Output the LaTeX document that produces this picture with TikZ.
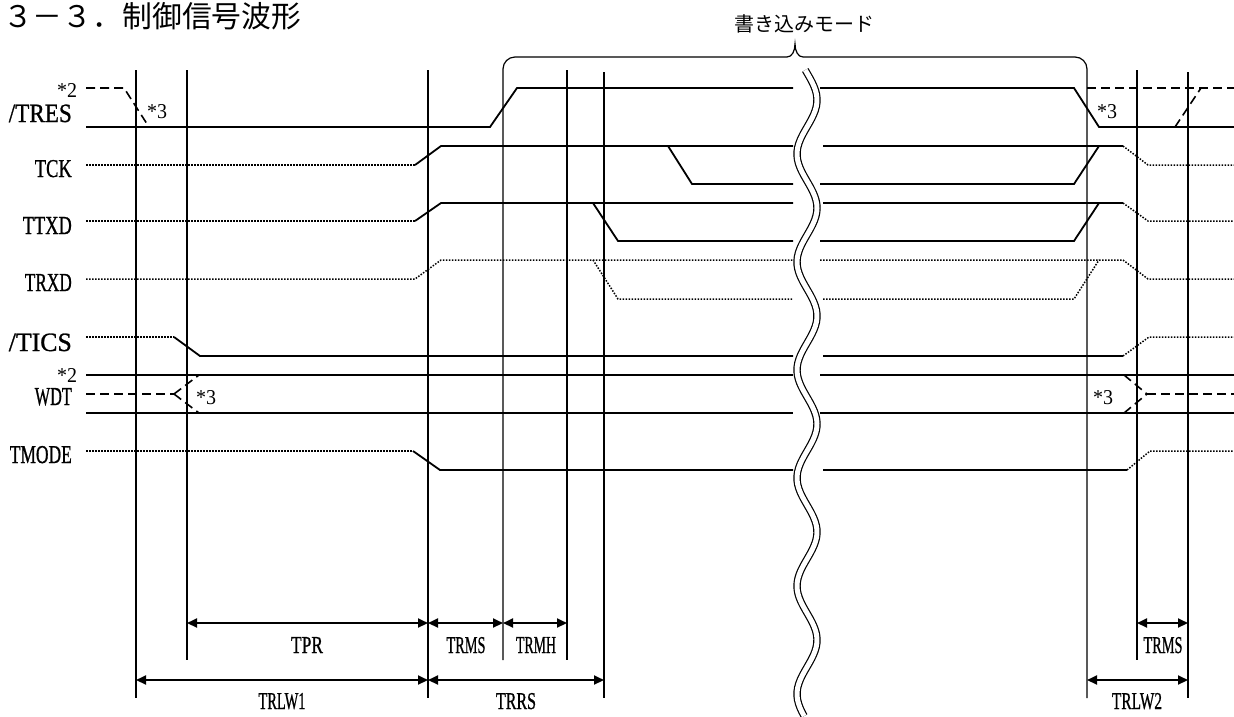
\documentclass[tikz,border=0pt]{standalone}
\usepackage{fontspec}
\usepackage{graphicx}
\setmainfont{Liberation Serif}
\newfontfamily\lblfont[FakeBold=1]{Liberation Serif}
\newfontfamily\cjk{Noto Sans CJK JP}
\usetikzlibrary{arrows.meta}
\newcommand\cnd[3]{\resizebox{#1pt}{#2pt}{\lblfont #3}}
\newcommand\nt[1]{\resizebox{20pt}{14pt}{\fontsize{20}{20}\selectfont #1}}
\tikzset{
  vline/.style={line width=1.2pt},
  sig/.style={line width=1.8pt},
  sigdot/.style={line width=1.5pt, dash pattern=on 1.5pt off 1.5pt},
  sigdash/.style={line width=1.6pt, dash pattern=on 9pt off 5pt},
  dimarrow/.style={line width=2pt, {Triangle[length=10pt,width=9pt]}-{Triangle[length=10pt,width=9pt]}},
  lbl/.style={inner sep=0pt, anchor=base east},
  dimlbl/.style={inner sep=0pt, anchor=base},
  note/.style={inner sep=0pt, anchor=base west},
  wave/.style={line width=1.2pt, double, double distance=5pt}
}
\begin{document}
\begin{tikzpicture}[x=1pt,y=-1pt]
\useasboundingbox (0,0) rectangle (1234,716);
\fill[white] (0,0) rectangle (1234,716);

% title and mode label
\node[inner sep=0pt, anchor=base west] (title) at (3,27) {\cjk\fontsize{29.8}{29.8}\selectfont ３－３．制御信号波形};
\node[inner sep=0pt, anchor=base] (mode) at (804,31) {\cjk\fontsize{20}{20}\selectfont 書き込みモード};

% brace with legs
\draw[vline, rounded corners=12pt] (503,660) -- (503,57) -- (787,57);
\draw[vline] (787,57) .. controls (792,57) and (795,51) .. (795,44) .. controls (795,51) and (798,57) .. (803,57);
\draw[vline, rounded corners=12pt] (803,57) -- (1087,57) -- (1087,698);

% vertical time markers
\draw[vline] (136,70) -- (136,698);
\draw[vline] (187,70) -- (187,660);
\draw[vline] (428,70) -- (428,698);
\draw[vline] (567,70) -- (567,660);
\draw[vline] (604,72) -- (604,698);
\draw[vline] (1137,70) -- (1137,660);
\draw[vline] (1188,72) -- (1188,698);

% signal labels
\node[lbl] (lTRES) at (72,122) {\cnd{63}{17.5}{/TRES}};
\node[lbl] (lTCK) at (72,177) {\cnd{37}{17}{TCK}};
\node[lbl] (lTTXD) at (72,234) {\cnd{49}{17}{TTXD}};
\node[lbl] (lTRXD) at (72,291) {\cnd{47}{17}{TRXD}};
\node[lbl] (lTICS) at (72,351) {\cnd{63}{17.5}{/TICS}};
\node[lbl] (lWDT) at (72,405) {\cnd{37}{17}{WDT}};
\node[lbl] (lTMODE) at (72,463) {\cnd{62}{17}{TMODE}};

\node[note] (n2a) at (57,97) {\nt{*2}};
\node[note] (n3a) at (147,118) {\nt{*3}};
\node[note] (n3b) at (1097,118) {\nt{*3}};
\node[note] (n2b) at (57,382) {\nt{*2}};
\node[note] (n3c) at (196,404) {\nt{*3}};
\node[note] (n3d) at (1093,404) {\nt{*3}};

% /TRES
\draw[sig] (86,127) -- (490,127) -- (517,88) -- (793,88);
\draw[sig] (820,88) -- (1074,88) -- (1099,127) -- (1234,127);
\draw[sigdash] (1087,88) -- (1234,88);
\draw[sigdash] (1175,127) -- (1201,88);
\draw[sigdash] (86,88) -- (124,88) -- (149,127);

% TCK
\draw[sigdot] (86,165) -- (415,165);
\draw[sig] (415,165) -- (441,146) -- (793,146);
\draw[sig] (668,146) -- (692,184) -- (793,184);
\draw[sig] (823,146) -- (1123,146);
\draw[sigdot] (1123,146) -- (1148,165) -- (1234,165);
\draw[sig] (820,184) -- (1074,184) -- (1099,146);

% TTXD
\draw[sigdot] (86,221) -- (415,221);
\draw[sig] (415,221) -- (441,203) -- (793,203);
\draw[sig] (593,203) -- (618,241) -- (793,241);
\draw[sig] (823,203) -- (1123,203);
\draw[sigdot] (1123,203) -- (1148,221) -- (1234,221);
\draw[sig] (820,241) -- (1074,241) -- (1099,203);

% TRXD
\draw[sigdot] (86,279) -- (415,279) -- (441,260) -- (793,260);
\draw[sigdot] (593,260) -- (618,299) -- (793,299);
\draw[sigdot] (820,260) -- (1123,260) -- (1148,279) -- (1234,279);
\draw[sigdot] (823,299) -- (1074,299) -- (1099,260);

% /TICS
\draw[sigdot] (86,337) -- (174,337);
\draw[sig] (174,337) -- (200,356) -- (793,356);
\draw[sig] (823,356) -- (1123,356);
\draw[sigdot] (1123,356) -- (1149,337) -- (1234,337);

% WDT
\draw[sig] (86,375) -- (793,375);
\draw[sig] (86,413) -- (793,413);
\draw[sig] (820,375) -- (1234,375);
\draw[sig] (820,413) -- (1234,413);
\draw[sigdash] (86,394) -- (174,394);
\draw[sigdash] (174,394) -- (199,375);
\draw[sigdash] (174,394) -- (199,413);
\draw[sigdash] (1124,375) -- (1147,394);
\draw[sigdash] (1124,413) -- (1147,394);
\draw[sigdash] (1147,394) -- (1234,394);

% TMODE
\draw[sigdot] (86,451) -- (413,451);
\draw[sig] (413,451) -- (440,470) -- (793,470);
\draw[sig] (823,470) -- (1127,470);
\draw[sigdot] (1127,470) -- (1150,451) -- (1234,451);

% wavy break
\draw[wave] plot[domain=70:716, samples=160] ({807+10*sin(3.3333*(\x-73))}, \x);

% dimension arrows
\coordinate (pA1) at (187,623);
\coordinate (pA2) at (428,623);
\coordinate (pA3) at (503,623);
\coordinate (pA4) at (567,623);
\coordinate (pA5) at (1137,623);
\coordinate (pA6) at (1188,623);
\coordinate (pB1) at (136,680);
\coordinate (pB2) at (428,680);
\coordinate (pB3) at (604,680);
\coordinate (pB4) at (1087,680);
\coordinate (pB5) at (1188,680);
\draw[dimarrow] (pA1) -- (pA2);
\draw[dimarrow] (pA2) -- (pA3);
\draw[dimarrow] (pA3) -- (pA4);
\draw[dimarrow] (pA5) -- (pA6);
\draw[dimarrow] (pB1) -- (pB2);
\draw[dimarrow] (pB2) -- (pB3);
\draw[dimarrow] (pB4) -- (pB5);

\node[dimlbl] (tTPR) at (307,653) {\cnd{32}{16}{TPR}};
\node[dimlbl] (tTRMS) at (466,653) {\cnd{39}{16}{TRMS}};
\node[dimlbl] (tTRMH) at (536,653) {\cnd{40}{16}{TRMH}};
\node[dimlbl] (tTRMS2) at (1163,653) {\cnd{39}{16}{TRMS}};
\node[dimlbl] (tTRLW1) at (282,709) {\cnd{47}{16}{TRLW1}};
\node[dimlbl] (tTRRS) at (516,709) {\cnd{40}{16}{TRRS}};
\node[dimlbl] (tTRLW2) at (1137,709) {\cnd{50}{16}{TRLW2}};
\end{tikzpicture}
\end{document}
